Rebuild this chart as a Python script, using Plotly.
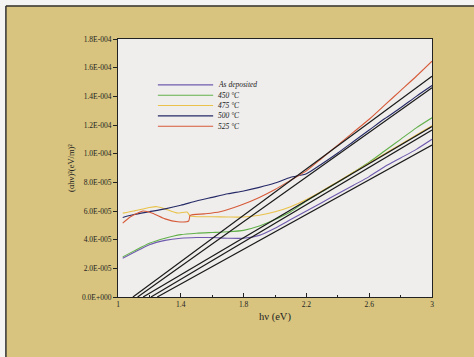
import plotly.graph_objects as go

SCALE = 1e-5

# Data curves (x in eV, y in units of 1e-5)
asdep_x = [1.03, 1.1, 1.2, 1.3, 1.4, 1.5, 1.6, 1.7, 1.8, 1.9, 2.0, 2.1, 2.2, 2.3, 2.4, 2.5, 2.6, 2.7, 2.8, 2.9, 3.0]
asdep_y = [2.7, 3.1, 3.65, 3.95, 4.1, 4.15, 4.15, 4.1, 4.1, 4.3, 4.8, 5.4, 6.0, 6.6, 7.2, 7.8, 8.4, 9.1, 9.7, 10.3, 11.0]

t450_x = [1.03, 1.1, 1.2, 1.3, 1.4, 1.5, 1.6, 1.7, 1.8, 1.9, 2.0, 2.1, 2.2, 2.3, 2.4, 2.5, 2.6, 2.7, 2.8, 2.9, 3.0]
t450_y = [2.8, 3.2, 3.75, 4.1, 4.35, 4.45, 4.5, 4.55, 4.65, 4.95, 5.4, 5.95, 6.7, 7.35, 8.0, 8.7, 9.4, 10.2, 11.0, 11.8, 12.5]

t475_x = [1.03, 1.1, 1.2, 1.25, 1.3, 1.38, 1.44, 1.46, 1.6, 1.7, 1.8, 1.9, 2.0, 2.1, 2.2, 2.3, 2.4, 2.5, 2.6, 2.7, 2.8, 2.9, 3.0]
t475_y = [5.85, 6.0, 6.25, 6.3, 6.15, 5.86, 5.93, 5.65, 5.6, 5.58, 5.58, 5.7, 5.95, 6.3, 6.8, 7.4, 8.05, 8.7, 9.35, 10.0, 10.65, 11.3, 11.95]

t500_x = [1.03, 1.1, 1.2, 1.3, 1.4, 1.5, 1.6, 1.7, 1.8, 1.9, 2.0, 2.1, 2.2, 2.3, 2.4, 2.5, 2.6, 2.7, 2.8, 2.9, 3.0]
t500_y = [5.55, 5.75, 5.95, 6.15, 6.4, 6.7, 6.95, 7.2, 7.4, 7.65, 7.95, 8.35, 8.6, 9.3, 10.05, 10.85, 11.65, 12.45, 13.2, 14.0, 14.75]

t525_x = [1.03, 1.08, 1.16, 1.22, 1.3, 1.38, 1.45, 1.46, 1.55, 1.65, 1.78, 1.9, 2.0, 2.1, 2.2, 2.3, 2.4, 2.5, 2.6, 2.7, 2.8, 2.9, 3.0]
t525_y = [5.15, 5.6, 6.0, 5.85, 5.45, 5.25, 5.3, 5.7, 5.8, 5.95, 6.4, 6.95, 7.5, 8.15, 8.8, 9.7, 10.6, 11.5, 12.4, 13.4, 14.4, 15.4, 16.45]

series_names = ["As deposited", "450 \u00b0C", "475 \u00b0C", "500 \u00b0C", "525 \u00b0C"]
series_colors = ["#6f5aae", "#62b04a", "#e9c24a", "#262a66", "#d65a38"]
series_x = [asdep_x, t450_x, t475_x, t500_x, t525_x]
series_y = [asdep_y, t450_y, t475_y, t500_y, t525_y]

# Linear (Tauc) fit lines: x-intercept and value at x = 3 eV (units 1e-5)
fit_x0 = [1.25, 1.16, 1.21, 1.125, 1.095]
fit_end = [10.6, 11.9, 11.65, 14.6, 15.4]
fit_xend = 3.0

x_ticks = [1, 1.4, 1.8, 2.2, 2.6, 3]
x_ticklabels = ["1", "1.4", "1.8", "2.2", "2.6", "3"]
y_ticks = [0, 2, 4, 6, 8, 10, 12, 14, 16, 18]
y_ticklabels = ["0.0E+000", "2.0E-005", "4.0E-005", "6.0E-005", "8.0E-005",
                "1.0E-004", "1.2E-004", "1.4E-004", "1.6E-004", "1.8E-004"]

SERIF = "Liberation Serif, Times New Roman, serif"

fig = go.Figure()

for name, col, xs, ys in zip(series_names, series_colors, series_x, series_y):
    fig.add_trace(go.Scatter(x=xs, y=[v * SCALE for v in ys], mode="lines", name=name,
                             line=dict(color=col, width=1.1, shape="spline", smoothing=0.6),
                             showlegend=False))

for x0, ye in zip(fit_x0, fit_end):
    fig.add_trace(go.Scatter(x=[x0, fit_xend], y=[0, ye * SCALE], mode="lines",
                             line=dict(color="#1a1a1a", width=1.2), showlegend=False,
                             hoverinfo="skip"))

# Legend drawn as in the original (short rows inside the plot)
shapes = []
annotations = []
leg_top = 0.822
leg_step = 0.040
for i, (name, col) in enumerate(zip(series_names, series_colors)):
    yy = leg_top - i * leg_step
    shapes.append(dict(type="line", xref="paper", yref="paper", x0=0.127, x1=0.303,
                       y0=yy, y1=yy, line=dict(color=col, width=1.1)))
    annotations.append(dict(xref="paper", yref="paper", x=0.312, y=yy, text=name,
                            showarrow=False, xanchor="left", yanchor="middle",
                            font=dict(family=SERIF, size=7.5, color="#222", style="italic")))

# scan border: white strip with dark line at top and left
shapes += [
    dict(type="rect", xref="paper", yref="paper", x0=-0.4, x1=1.14, y0=1.13, y1=1.2,
         fillcolor="#f4f4f2", line=dict(width=0), layer="below"),
    dict(type="rect", xref="paper", yref="paper", x0=-0.4, x1=-0.357, y0=-0.3, y1=1.2,
         fillcolor="#f4f4f2", line=dict(width=0), layer="below"),
    dict(type="line", xref="paper", yref="paper", x0=-0.357, x1=1.14, y0=1.128, y1=1.128,
         line=dict(color="#333", width=1.5)),
    dict(type="line", xref="paper", yref="paper", x0=-0.357, x1=-0.357, y0=-0.3, y1=1.128,
         line=dict(color="#333", width=1.5)),
]

fig.update_layout(
    width=474, height=357,
    margin=dict(l=118, r=42, t=39, b=60),
    paper_bgcolor="#d8c47e",
    plot_bgcolor="#efeeed",
    shapes=shapes,
    annotations=annotations,
    font=dict(family=SERIF, color="#222"),
)

fig.update_xaxes(range=[1, 3], tickvals=x_ticks, ticktext=x_ticklabels,
                 ticks="inside", ticklen=4, tickcolor="#222", tickwidth=1,
                 minor=dict(dtick=0.2, ticks="inside", ticklen=2, tickcolor="#222"),
                 showline=True, linecolor="#222", linewidth=1.2, mirror=True,
                 showgrid=False, zeroline=False,
                 tickfont=dict(size=7.5, family=SERIF),
                 title=dict(text="h\u03bd (eV)", font=dict(size=10.5, family=SERIF), standoff=4))

fig.update_yaxes(range=[0, 18e-5], tickvals=[v * SCALE for v in y_ticks], ticktext=y_ticklabels,
                 ticks="outside", ticklen=4, tickcolor="#222", tickwidth=1,
                 showline=True, linecolor="#222", linewidth=1.2, mirror=True,
                 showgrid=False, zeroline=False,
                 tickfont=dict(size=7.5, family=SERIF),
                 title=dict(text="(\u03b1h\u03bd)\u00b2(eV/m)\u00b2", font=dict(size=8.5, family=SERIF), standoff=5))

fig.write_html("out.html")
